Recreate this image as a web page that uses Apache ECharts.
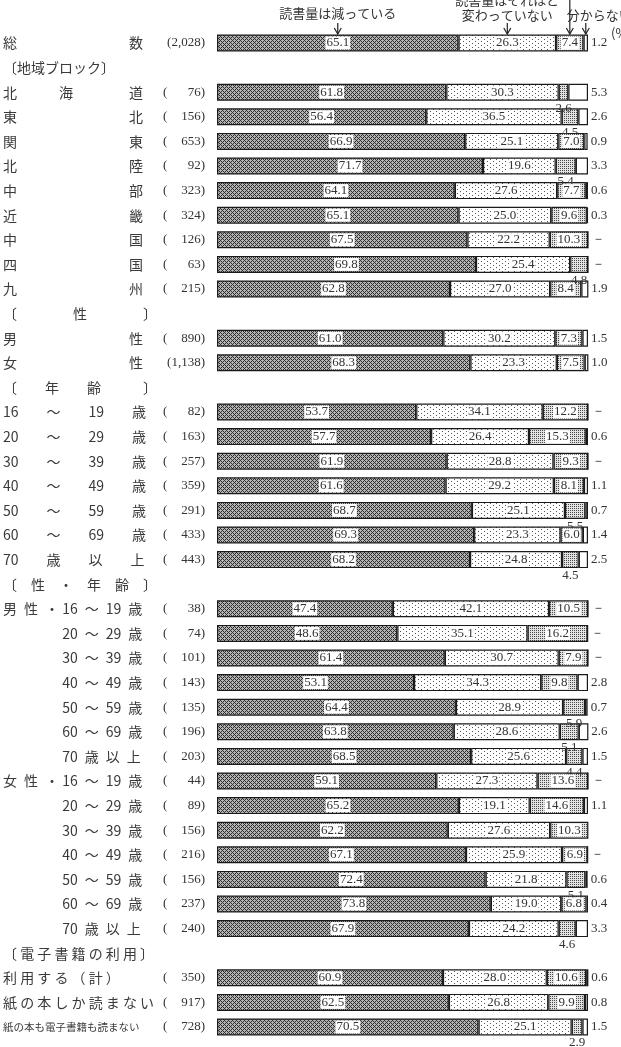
<!DOCTYPE html>
<html><head><meta charset="utf-8">
<script src="https://cdn.jsdelivr.net/npm/echarts@6/dist/echarts.min.js"></script>
<style>html,body{margin:0;padding:0;background:#fff}#c{width:621px;height:1047px}</style>
</head><body><div id="c"></div>
<script>
// ---- data ----
const categories = [
  '総　　　　　　　　数',
  '〔地域ブロック〕',
  '北　　　海　　　　道',
  '東　　　　　　　　北',
  '関　　　　　　　　東',
  '北　　　　　　　　陸',
  '中　　　　　　　　部',
  '近　　　　　　　　畿',
  '中　　　　　　　　国',
  '四　　　　　　　　国',
  '九　　　　　　　　州',
  '〔　　　　性　　　　〕',
  '男　　　　　　　　性',
  '女　　　　　　　　性',
  '〔　　年　　齢　　　〕',
  '16　　～　　19　　歳',
  '20　　～　　29　　歳',
  '30　　～　　39　　歳',
  '40　　～　　49　　歳',
  '50　　～　　59　　歳',
  '60　　～　　69　　歳',
  '70　　歳　　以　　上',
  '〔　性　・　年　齢　〕',
  '男\u2002性\u2002・ 16\u2002～\u200219\u2002歳',
  '　　　　 20\u2002～\u200229\u2002歳',
  '　　　　 30\u2002～\u200239\u2002歳',
  '　　　　 40\u2002～\u200249\u2002歳',
  '　　　　 50\u2002～\u200259\u2002歳',
  '　　　　 60\u2002～\u200269\u2002歳',
  '　　　　 70\u2002歳\u2002以\u2002上',
  '女\u2002性\u2002・ 16\u2002～\u200219\u2002歳',
  '　　　　 20\u2002～\u200229\u2002歳 ',
  '　　　　 30\u2002～\u200239\u2002歳 ',
  '　　　　 40\u2002～\u200249\u2002歳 ',
  '　　　　 50\u2002～\u200259\u2002歳 ',
  '　　　　 60\u2002～\u200269\u2002歳 ',
  '　　　　 70\u2002歳\u2002以\u2002上 ',
  '〔 電 子 書 籍 の 利 用 〕',
  '利 用 す る （ 計 ）',
  '紙 の 本 し か 読 ま な い',
  '紙の本も電子書籍も読まない'
];
const sampleSizes = [
  '2,028', '', '76', '156', '653', '92', '323', '324', '126', '63', '215',
  '', '890', '1,138',
  '', '82', '163', '257', '359', '291', '433', '443',
  '', '38', '74', '101', '143', '135', '196', '203',
  '44', '89', '156', '216', '156', '237', '240',
  '', '350', '917', '728'
];
const decreased = [
  65.1, null, 61.8, 56.4, 66.9, 71.7, 64.1, 65.1, 67.5, 69.8, 62.8,
  null, 61.0, 68.3,
  null, 53.7, 57.7, 61.9, 61.6, 68.7, 69.3, 68.2,
  null, 47.4, 48.6, 61.4, 53.1, 64.4, 63.8, 68.5,
  59.1, 65.2, 62.2, 67.1, 72.4, 73.8, 67.9,
  null, 60.9, 62.5, 70.5
];
const unchanged = [
  26.3, null, 30.3, 36.5, 25.1, 19.6, 27.6, 25.0, 22.2, 25.4, 27.0,
  null, 30.2, 23.3,
  null, 34.1, 26.4, 28.8, 29.2, 25.1, 23.3, 24.8,
  null, 42.1, 35.1, 30.7, 34.3, 28.9, 28.6, 25.6,
  27.3, 19.1, 27.6, 25.9, 21.8, 19.0, 24.2,
  null, 28.0, 26.8, 25.1
];
const increased = [
  7.4, null, 2.6, 4.5, 7.0, 5.4, 7.7, 9.6, 10.3, 4.8, 8.4,
  null, 7.3, 7.5,
  null, 12.2, 15.3, 9.3, 8.1, 5.5, 6.0, 4.5,
  null, 10.5, 16.2, 7.9, 9.8, 5.9, 5.1, 4.4,
  13.6, 14.6, 10.3, 6.9, 5.1, 6.8, 4.6,
  null, 10.6, 9.9, 2.9
];
const unknown = [
  1.2, null, 5.3, 2.6, 0.9, 3.3, 0.6, 0.3, '-', '-', 1.9,
  null, 1.5, 1.0,
  null, '-', 0.6, '-', 1.1, 0.7, 1.4, 2.5,
  null, '-', '-', '-', 2.8, 0.7, 2.6, 1.5,
  '-', 1.1, '-', '-', 0.6, 0.4, 3.3,
  null, 0.6, 0.8, 1.5
];
const seriesNames = ['読書量は減っている', '読書量はそれほど変わっていない', '読書量は増えている', '分からない'];

// ---- styles ----
function makePattern(w, h, bg, fg, dots) {
  const c = document.createElement('canvas');
  c.width = w; c.height = h;
  const g = c.getContext('2d');
  g.fillStyle = bg; g.fillRect(0, 0, w, h);
  g.fillStyle = fg;
  dots.forEach(d => g.fillRect(d[0], d[1], 1, 1));
  return { image: c, repeat: 'repeat' };
}
const pat1 = makePattern(4, 4, '#b4b4b4', '#2e2e2e', [[0,0],[1,1],[2,2],[3,3],[1,3],[3,1]]);
const pat2 = makePattern(6, 4, '#ffffff', '#555555', [[1,1],[4,3]]);
const pat3 = makePattern(2, 2, '#e2e2e2', '#4a4a4a', [[0,0]]);

const numFont = { fontFamily: 'Liberation Serif', fontSize: 13, color: '#333' };
const fmt = p => (typeof p.value === 'number' ? p.value.toFixed(1) : '');
const insideLabel = Object.assign({ show: true, position: 'inside', backgroundColor: '#fff', padding: [0, 1, 0, 1], formatter: fmt }, numFont);
const itemBorder = { borderColor: '#1a1a1a', borderWidth: 1.2 };

const incData = increased.map(v => v == null ? null :
  (v < 6 ? { value: v, label: { position: 'bottom', distance: 1, backgroundColor: 'transparent', padding: 0 } } : v));
const unkData = unknown.map(v => v == null ? null :
  (v === '-' ? { value: 0, label: { formatter: '－' } } : v));

const isSmall = v => !/\s/.test(v) && v.length > 10;

const chart = echarts.init(document.getElementById('c'), null, { renderer: 'canvas' });
chart.setOption({
  animation: false,
  backgroundColor: '#fff',
  grid: { left: 217, right: 33, top: 30.7, bottom: 7.7, containLabel: false, outerBoundsMode: 'none' },
  xAxis: { type: 'value', min: 0, max: 100, show: false },
  yAxis: [
    {
      type: 'category', data: categories, inverse: true,
      axisLine: { show: false }, axisTick: { show: false }, splitLine: { show: false },
      axisLabel: {
        interval: 0, align: 'left', margin: 214,
        fontFamily: 'Noto Sans CJK JP', fontSize: 14, color: '#3a3a3a',
        formatter: v => isSmall(v) ? '{s|' + v + '}' : v,
        rich: { s: { fontFamily: 'Noto Sans CJK JP', fontSize: 10.5, color: '#3a3a3a' } }
      }
    },
    {
      type: 'category', data: categories, inverse: true, position: 'left',
      axisLine: { show: false }, axisTick: { show: false }, splitLine: { show: false },
      axisLabel: {
        interval: 0, align: 'right', margin: 12,
        fontFamily: 'Liberation Serif', fontSize: 13, color: '#333',
        formatter: (v, i) => {
          const n = sampleSizes[i];
          if (!n) return '';
          if (n.length >= 5) return '{w|(' + n + ')}';
          return '{o|(}{v|' + n + ')}';
        },
        rich: {
          w: { fontFamily: 'Liberation Serif', fontSize: 13, color: '#333' },
          o: { fontFamily: 'Liberation Serif', fontSize: 13, color: '#333', width: 8, align: 'left' },
          v: { fontFamily: 'Liberation Serif', fontSize: 13, color: '#333', width: 34, align: 'right' }
        }
      }
    }
  ],
  series: [
    { name: seriesNames[0], type: 'bar', stack: 'all', barWidth: 17, yAxisIndex: 0,
      data: decreased, itemStyle: Object.assign({ color: pat1 }, itemBorder), label: insideLabel },
    { name: seriesNames[1], type: 'bar', stack: 'all', barWidth: 17, yAxisIndex: 0,
      data: unchanged, itemStyle: Object.assign({ color: pat2 }, itemBorder), label: insideLabel },
    { name: seriesNames[2], type: 'bar', stack: 'all', barWidth: 17, yAxisIndex: 0,
      data: incData, itemStyle: Object.assign({ color: pat3 }, itemBorder), label: insideLabel },
    { name: seriesNames[3], type: 'bar', stack: 'all', barWidth: 17, yAxisIndex: 0,
      data: unkData, itemStyle: Object.assign({ color: '#fff' }, itemBorder),
      label: Object.assign({ show: true, position: 'right', distance: 3, formatter: fmt }, numFont) }
  ]
});

// ---- annotations pointing at the first row ----
const px = v => chart.convertToPixel({ xAxisIndex: 0 }, v);
const rowY = chart.convertToPixel({ yAxisIndex: 0 }, categories[0]);
const barTop = rowY - 9;
const a = decreased[0], b = unchanged[0], c = increased[0], d = unknown[0];
const x1 = px(a / 2), x2 = px(a + b / 2), x3 = px(a + b + c / 2), x4 = px(a + b + c + d / 2);
function arrow(x, yStart) {
  return [
    { type: 'line', shape: { x1: x, y1: yStart, x2: x, y2: barTop }, style: { stroke: '#222', lineWidth: 1.2 } },
    { type: 'polyline', shape: { points: [[x - 3.5, barTop - 6], [x, barTop], [x + 3.5, barTop - 6]] }, style: { stroke: '#222', lineWidth: 1.2, fill: null } }
  ];
}
const tStyle = (text, align) => ({ text: text, fill: '#333', fontFamily: 'Noto Sans CJK JP', fontSize: 13, align: align || 'center', verticalAlign: 'middle' });
chart.setOption({
  graphic: [
    { type: 'text', x: x1, y: 13, style: tStyle(seriesNames[0]) },
    { type: 'text', x: x2, y: 0, style: tStyle('読書量はそれほど') },
    { type: 'text', x: x2, y: 15, style: tStyle('変わっていない') },
    { type: 'text', x: x4 - 19, y: 15, style: tStyle(seriesNames[3], 'left') },
    { type: 'text', x: 611, y: 33, style: tStyle('(%)', 'left') }
  ].concat(arrow(x1, 23), arrow(x2, 23), arrow(x3, 0), arrow(x4, 23))
});
</script>
</body></html>
